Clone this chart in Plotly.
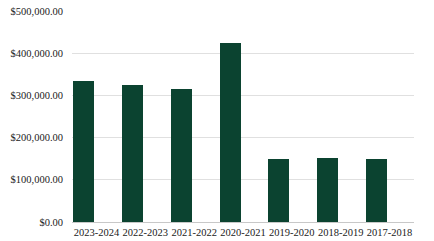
import plotly.graph_objects as go

categories = ["2023-2024", "2022-2023", "2021-2022", "2020-2021", "2019-2020", "2018-2019", "2017-2018"]
values = [334000, 324000, 314000, 425000, 149000, 151000, 149000]
y_ticks = [0, 100000, 200000, 300000, 400000, 500000]
y_tick_labels = ["$0.00", "$100,000.00", "$200,000.00", "$300,000.00", "$400,000.00", "$500,000.00"]

fig = go.Figure()
fig.add_trace(go.Bar(
    x=categories, y=values,
    marker=dict(color="#0b4330", line=dict(width=0)),
    width=0.43, offset=-0.48,
))
fig.update_layout(
    width=434, height=241,
    margin=dict(l=72, r=20, t=11, b=19),
    paper_bgcolor="white", plot_bgcolor="white",
    showlegend=False,
    font=dict(family="Liberation Serif", size=10, color="#333333"),
    xaxis=dict(type="category", showgrid=False, showline=True, linecolor="#c8c8c8",
               linewidth=1, ticks="", automargin=False, ticklabelstandoff=0,
               tickfont=dict(size=10.5, color="#222222")),
    yaxis=dict(range=[0, 500000], tickvals=y_ticks, ticktext=y_tick_labels,
               showgrid=True, gridcolor="#e0e0e0", gridwidth=1, zeroline=False,
               ticks="", automargin=False, ticklabelstandoff=8,
               tickfont=dict(size=10.5, color="#222222")),
    bargap=0,
)
fig.write_html("out.html")
